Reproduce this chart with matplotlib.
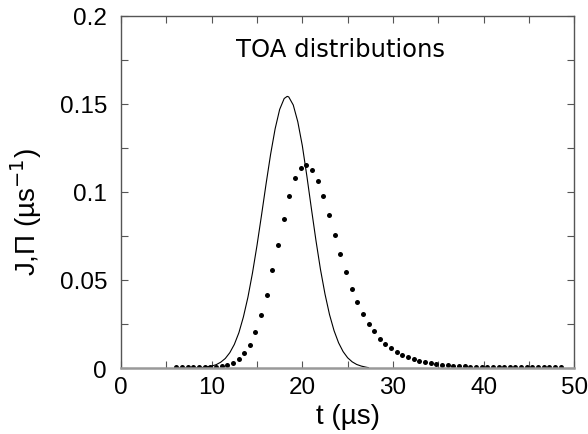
import matplotlib
matplotlib.use("Agg")
import matplotlib.pyplot as plt

# Solid curve J(t)
t_line = [6.1, 8.0, 9.0, 10.0, 10.5, 11.0, 11.5, 12.0, 12.5, 13.0, 13.5, 14.0, 14.5,
          15.0, 15.5, 16.0, 16.5, 17.0, 17.5, 18.0, 18.33, 18.5, 19.0, 19.5, 20.0,
          20.5, 21.0, 21.5, 22.0, 22.5, 23.0, 23.5, 24.0, 24.5, 25.0, 25.5, 26.0,
          26.5, 27.0, 27.3]
j_line = [0.0, 0.0001, 0.0003, 0.0011, 0.0019, 0.0033, 0.0054, 0.0087, 0.0134, 0.0200,
          0.0290, 0.0402, 0.0539, 0.0696, 0.0868, 0.1045, 0.1213, 0.1358, 0.1468,
          0.1530, 0.1542, 0.1539, 0.1493, 0.1398, 0.1262, 0.1090, 0.0905, 0.0725,
          0.0560, 0.0420, 0.0303, 0.0212, 0.0143, 0.0093, 0.0058, 0.0035, 0.0020,
          0.0011, 0.0005, 0.0002]

# Dotted distribution Pi(t)
t_dots = [6.10, 6.72, 7.35, 7.97, 8.59, 9.22, 9.84, 10.46, 11.09, 11.71, 12.34, 12.96,
          13.58, 14.21, 14.83, 15.45, 16.08, 16.70, 17.32, 17.95, 18.57, 19.19, 19.82,
          20.44, 21.06, 21.69, 22.31, 22.93, 23.56, 24.18, 24.81, 25.43, 26.05, 26.68,
          27.30, 27.92, 28.55, 29.17, 29.79, 30.42, 31.04, 31.66, 32.29, 32.91, 33.53,
          34.16, 34.78, 35.40, 36.03, 36.65, 37.27, 37.90, 38.52, 39.14, 39.77, 40.39,
          41.01, 41.64, 42.26, 42.88, 43.51, 44.13, 44.75, 45.38, 46.00, 46.62, 47.25,
          47.87, 48.50]
p_dots = [0.0004, 0.0004, 0.0004, 0.0004, 0.0004, 0.0004, 0.0005, 0.0008, 0.0011,
          0.0019, 0.0028, 0.0049, 0.0083, 0.0129, 0.0203, 0.0301, 0.0416, 0.0555,
          0.0701, 0.0847, 0.0976, 0.1076, 0.1135, 0.1153, 0.1125, 0.1063, 0.0976,
          0.0869, 0.0757, 0.0648, 0.0545, 0.0448, 0.0377, 0.0309, 0.0252, 0.0209,
          0.0166, 0.0136, 0.0112, 0.0091, 0.0074, 0.0063, 0.0053, 0.0042, 0.0036,
          0.0030, 0.0023, 0.0019, 0.0015, 0.0012, 0.0010, 0.0009, 0.0008, 0.0007,
          0.0006, 0.0006, 0.0005, 0.0005, 0.0005, 0.0004, 0.0004, 0.0004, 0.0004,
          0.0004, 0.0004, 0.0004, 0.0004, 0.0004, 0.0004]

x_ticks = [0, 10, 20, 30, 40, 50]
y_ticks = [0, 0.05, 0.1, 0.15, 0.2]
y_tick_labels = ["0", "0.05", "0.1", "0.15", "0.2"]

plt.rcParams['font.family'] = ['Liberation Sans', 'DejaVu Sans']

fig = plt.figure(figsize=(5.88, 4.35), dpi=100)
ax = fig.add_axes([0.2058, 0.1517, 0.7709, 0.8099])

ax.plot(t_line, j_line, color='black', linewidth=0.8)
ax.plot(t_dots, p_dots, linestyle='none', marker='o', markersize=3.6,
        color='black', markeredgewidth=0)

ax.set_xlim(0, 50)
ax.set_ylim(0, 0.2)
ax.set_xticks(x_ticks)
ax.set_xticks([5, 15, 25, 35, 45], minor=True)
ax.set_yticks(y_ticks)
ax.set_yticklabels(y_tick_labels)
ax.set_yticks([0.025, 0.075, 0.125, 0.175], minor=True)
ax.tick_params(which='both', direction='in', top=True, right=True,
               color='#555555', width=0.8, labelsize=17.5)
ax.tick_params(which='major', length=5, pad=10)
ax.tick_params(which='minor', length=5)
ax.tick_params(axis='x', which='major', pad=6)
for s in ax.spines.values():
    s.set_color('#555555')
    s.set_linewidth(1.0)
ax.spines['bottom'].set_color('#999999')
ax.spines['bottom'].set_linewidth(1.8)

ax.set_xlabel('t (µs)', fontsize=20, labelpad=3)
ax.set_ylabel('J,Π (µs$^{-1}$)', fontsize=20)
ax.yaxis.set_label_coords(-0.17, 0.445)

ax.text(24.2, 0.181, 'TOA distributions', family='DejaVu Sans', fontsize=17.5,
        ha='center', va='center')

fig.savefig('out.png', dpi=100)
